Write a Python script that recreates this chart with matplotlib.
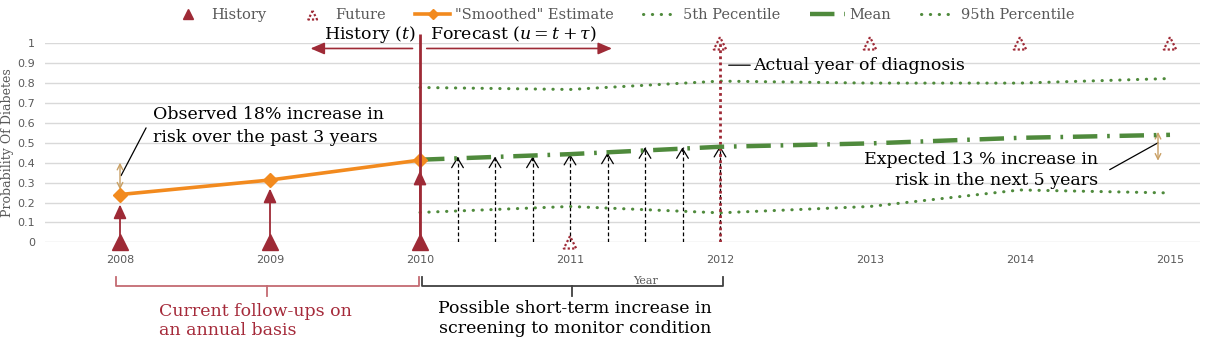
import matplotlib
matplotlib.use("Agg")
import matplotlib.pyplot as plt
from matplotlib.transforms import blended_transform_factory
from matplotlib.lines import Line2D

# ---------------- data ----------------
hist_years = [2008, 2009, 2010]
hist_obs = [0, 0, 0]
hist_arrow_top = [0.19, 0.27, 0.36]
smoothed = [0.24, 0.313, 0.413]

future_years = [2011, 2012, 2013, 2014, 2015]
future_obs = [0, 1, 1, 1, 1]

fc_years = [2010, 2011, 2012, 2013, 2014, 2015]
mean = [0.415, 0.443, 0.48, 0.497, 0.525, 0.54]
p5 = [0.15, 0.18, 0.148, 0.18, 0.263, 0.248]
p95 = [0.778, 0.768, 0.81, 0.80, 0.80, 0.823]

screen_x = [2010.25, 2010.5, 2010.75, 2011.0, 2011.25, 2011.5, 2011.75, 2012.0]
screen_top = [0.43, 0.43, 0.43, 0.444, 0.45, 0.477, 0.477, 0.484]

diag_year = 2012
current_year = 2010

xticks = [2008, 2009, 2010, 2011, 2012, 2013, 2014, 2015]
yticks = [0, 0.1, 0.2, 0.3, 0.4, 0.5, 0.6, 0.7, 0.8, 0.9, 1]
ytick_labels = ["0", "0.1", "0.2", "0.3", "0.4", "0.5", "0.6", "0.7", "0.8", "0.9", "1"]

# ---------------- style ----------------
RED = "#9E2A36"
RED_LIGHT = "#C46A72"
ORANGE = "#F28A1E"
GREEN = "#4F8A3C"
TAN = "#C9A064"
GRAY = "#595959"
SERIF = "DejaVu Serif"

plt.rcParams["mathtext.fontset"] = "dejavuserif"
plt.rcParams["font.family"] = SERIF

W, H = 1206, 344
fig = plt.figure(figsize=(W / 100, H / 100), dpi=100)
ax = fig.add_axes([45 / W, 1 - 242.3 / H, 1155 / W, 199 / H])
ax.set_xlim(2007.5, 2015.2)
ax.set_ylim(0, 1)
for s in ax.spines.values():
    s.set_visible(False)
ax.set_yticks(yticks)
ax.set_yticklabels(ytick_labels)
ax.set_xticks(xticks)
ax.set_xticklabels([str(x) for x in xticks])
ax.tick_params(length=0, colors=GRAY)
for lab in ax.get_xticklabels() + ax.get_yticklabels():
    lab.set_fontfamily("DejaVu Sans")
    lab.set_fontsize(8)
ax.tick_params(axis="x", pad=9)
ax.tick_params(axis="y", pad=7)
ax.yaxis.grid(True, color="#D9D9D9", lw=1.0)
ax.set_axisbelow(True)
ax.set_ylabel("Probability Of Diabetes", fontsize=9, color=GRAY)
ax.yaxis.set_label_coords(-0.0265, 0.5)
ax.set_xlabel("Year", fontsize=8, color=GRAY)
ax.xaxis.set_label_coords((646 - 45) / 1155, -34 / 199)

# percentile lines
l5, = ax.plot(fc_years, p5, color=GREEN, lw=2.2, dashes=(0.1, 2.8),
              dash_capstyle="round", label="5th Pecentile", zorder=3)
l95, = ax.plot(fc_years, p95, color=GREEN, lw=2.2, dashes=(0.1, 2.8),
               dash_capstyle="round", label="95th Percentile", zorder=3)
lm, = ax.plot(fc_years, mean, color=GREEN, lw=3.2, dashes=(5.5, 2.2, 0.6, 2.2),
              dash_capstyle="butt", label="Mean", zorder=4)

# smoothed estimate
ls_, = ax.plot(hist_years, smoothed, color=ORANGE, lw=2.6, marker="D", ms=7,
               label='"Smoothed" Estimate', zorder=5)

# short-term screening arrows (dashed black)
ax.vlines(screen_x, 0, screen_top, colors="black", linestyles=(0, (3, 2)), lw=0.9, zorder=2)
for x, t in zip(screen_x, screen_top):
    ax.annotate("", xy=(x, t), xytext=(x, t - 0.02),
                arrowprops=dict(arrowstyle="->,head_length=0.5,head_width=0.3",
                                color="black", lw=0.9, shrinkA=0, shrinkB=0,
                                mutation_scale=14), zorder=2)

# diagnosis vertical dotted line
dl = ax.vlines([diag_year], 0, 1, colors=RED, linestyles=(0, (1, 1.2)), lw=2, zorder=3)

# current year vertical line
cl = ax.vlines([current_year], 0, 1.047, colors=RED, lw=2, zorder=6)
cl.set_clip_on(False)

# history arrows
for x, t in zip(hist_years, hist_arrow_top):
    ax.annotate("", xy=(x, t), xytext=(x, 0),
                arrowprops=dict(arrowstyle="-|>,head_length=0.7,head_width=0.32",
                                color=RED, lw=1.3, shrinkA=0, shrinkB=0,
                                mutation_scale=12), zorder=6)

# markers
lh, = ax.plot(hist_years, hist_obs, ls="none", marker="^", ms=11, color=RED,
              label="History", clip_on=False, zorder=7)
fs = ax.scatter(future_years, future_obs, marker="^", s=80, facecolors="none",
                edgecolors=RED, linewidths=1.6, linestyles=(0, (1, 1)),
                label="Future", clip_on=False, zorder=7)

# legend
leg = ax.legend(handles=[lh, fs, ls_, l5, lm, l95], loc="center",
                bbox_to_anchor=(0.5, 1 + (43.3 - 15) / 199), ncol=6, frameon=False,
                fontsize=10.5, handlelength=2.4, handletextpad=0.35,
                columnspacing=2.0, markerscale=0.7, borderaxespad=0)
for t in leg.get_texts():
    t.set_color(GRAY)

# top annotations
ax.text(2009.97, 1.045, r"History $(t)$", ha="right", va="center", fontsize=12.5,
        clip_on=False)
ax.text(2010.07, 1.045, r"Forecast $(u = t + \tau)$", ha="left", va="center",
        fontsize=12.5, clip_on=False)
ax.annotate("", xy=(2009.27, 0.974), xytext=(2009.95, 0.974),
            arrowprops=dict(arrowstyle="-|>,head_length=0.7,head_width=0.3", color=RED,
                            lw=1.2, shrinkA=0, shrinkB=0, mutation_scale=12),
            annotation_clip=False)
ax.annotate("", xy=(2011.28, 0.974), xytext=(2010.045, 0.974),
            arrowprops=dict(arrowstyle="-|>,head_length=0.7,head_width=0.3", color=RED,
                            lw=1.2, shrinkA=0, shrinkB=0, mutation_scale=12),
            annotation_clip=False)

ax.annotate("Actual year of diagnosis", xy=(2012.03, 0.89), xytext=(2012.22, 0.89),
            ha="left", va="center", fontsize=12.5,
            arrowprops=dict(arrowstyle="-", color="black", lw=0.9, shrinkA=0, shrinkB=3))

ax.annotate("Observed 18% increase in\nrisk over the past 3 years",
            xy=(2008.007, 0.335), xytext=(2008.22, 0.585), ha="left", va="center",
            fontsize=12.5, linespacing=1.45,
            arrowprops=dict(arrowstyle="-", color="black", lw=0.9, shrinkA=0, shrinkB=0,
                            relpos=(-0.03, 0.45)))
ax.annotate("", xy=(2008.0, 0.40), xytext=(2008.0, 0.265),
            arrowprops=dict(arrowstyle="<->,head_length=0.4,head_width=0.2", color=TAN,
                            lw=1.0, shrinkA=0, shrinkB=0, mutation_scale=10))

ax.annotate("Expected 13 % increase in\nrisk in the next 5 years",
            xy=(2014.92, 0.50), xytext=(2014.52, 0.365), ha="right", va="center",
            fontsize=12.5, linespacing=1.3,
            arrowprops=dict(arrowstyle="-", color="black", lw=0.9, shrinkA=0, shrinkB=0,
                            relpos=(1.05, 0.5)))
ax.annotate("", xy=(2014.92, 0.555), xytext=(2014.92, 0.41),
            arrowprops=dict(arrowstyle="<->,head_length=0.4,head_width=0.2", color=TAN,
                            lw=1.0, shrinkA=0, shrinkB=0, mutation_scale=10))

# bottom brackets
tr = blended_transform_factory(ax.transData, fig.transFigure)
yh = 1 - 285.7 / H
yt = 1 - 277 / H
yb = 1 - 295.7 / H


def bracket(x0, x1, color):
    xm = (x0 + x1) / 2
    ln = Line2D([x0, x0, x1, x1], [yt, yh, yh, yt], transform=tr, color=color, lw=1.3)
    tk = Line2D([xm, xm], [yh, yb], transform=tr, color=color, lw=1.3)
    fig.add_artist(ln)
    fig.add_artist(tk)


bracket(2007.97, 2009.99, RED_LIGHT)
bracket(2010.01, 2012.02, "#404040")

fig.text(159 / W, 1 - 321 / H, "Current follow-ups on\nan annual basis", ha="left",
         va="center", fontsize=12.5, color="#A52A3A", linespacing=1.2)
fig.text(575 / W, 1 - 318.5 / H, "Possible short-term increase in\nscreening to monitor condition",
         ha="center", va="center", fontsize=12.5, color="black", linespacing=1.2)

fig.savefig("out.png", dpi=100)
